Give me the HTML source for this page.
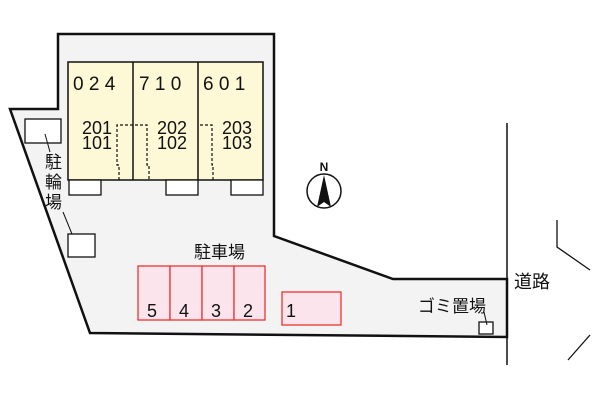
<!DOCTYPE html>
<html><head><meta charset="utf-8"><style>
body{margin:0;background:#fff}
svg text{font-family:"Liberation Sans","Noto Sans CJK JP",sans-serif;fill:#111}
</style></head><body>
<svg width="600" height="400" viewBox="0 0 600 400" xmlns="http://www.w3.org/2000/svg">
<polygon points="58,34 274,34 274,236 393,279 507,279 507,337 90,333 10,109 58,109" fill="#f3f3f3" stroke="#111" stroke-width="2.5"/>
<rect x="68" y="62" width="195" height="118" fill="#fdf9d6" stroke="#111" stroke-width="1.5"/>
<line x1="133" y1="62" x2="133" y2="180" stroke="#111" stroke-width="1.5"/>
<line x1="198" y1="62" x2="198" y2="180" stroke="#111" stroke-width="1.5"/>
<g fill="#fff" stroke="#111" stroke-width="1.3">
<rect x="69" y="180" width="32" height="15"/><rect x="166" y="180" width="32" height="15"/><rect x="231" y="180" width="32" height="15"/>
<rect x="25" y="119" width="36" height="24"/><rect x="68" y="234" width="27" height="23"/>
<rect x="479" y="322" width="14" height="12"/>
</g>
<g fill="none" stroke="#111" stroke-width="1.2" stroke-dasharray="3,2">
<path d="M119,180 V165 H117 V125 H147 V165 H149 V180"/>
<path d="M200,125 H212 V165 H213 V180"/>
</g>
<g font-size="19">
<text x="73" y="90">0 2 4</text><text x="139" y="90">7 1 0</text><text x="203" y="90">6 0 1</text>
</g>
<g font-size="18" text-anchor="middle">
<text x="97" y="134">201</text><text x="97" y="149">101</text>
<text x="172" y="134">202</text><text x="172" y="149">102</text>
<text x="237" y="134">203</text><text x="237" y="149">103</text>
</g>
<g font-size="17"><text x="45" y="168">駐</text><text x="45" y="188">輪</text><text x="45" y="208">場</text></g>
<line x1="45" y1="134" x2="50" y2="152" stroke="#111"/>
<line x1="63" y1="212" x2="72" y2="234" stroke="#111"/>
<text x="194" y="258" font-size="17">駐車場</text>
<g fill="#fce4ec" stroke="#e33" stroke-width="1.3">
<rect x="138" y="266" width="32" height="54"/><rect x="170" y="266" width="32" height="54"/><rect x="202" y="266" width="32" height="54"/><rect x="234" y="266" width="31" height="54"/>
<rect x="282" y="292" width="59" height="33"/>
</g>
<g font-size="18"><text x="147" y="317">5</text><text x="179" y="317">4</text><text x="211" y="317">3</text><text x="243" y="317">2</text><text x="286" y="317">1</text></g>
<text x="418" y="312" font-size="17">ゴミ置場</text>
<line x1="484" y1="312" x2="487" y2="325" stroke="#111"/>
<line x1="507" y1="123" x2="507" y2="365" stroke="#111" stroke-width="1.5"/>
<polyline points="557,220 557,247 590,270" fill="none" stroke="#111" stroke-width="1.3"/>
<line x1="568" y1="360" x2="590" y2="335" stroke="#111" stroke-width="1.3"/>
<text x="514" y="288" font-size="18">道路</text>
<circle cx="324" cy="191" r="17" fill="#fff" stroke="#111" stroke-width="1.5"/>
<polygon points="324,175 331,207 324,202 317,207" fill="#111"/>
<text x="324" y="171" font-size="12" text-anchor="middle" font-weight="bold">N</text>
</svg>
</body></html>
